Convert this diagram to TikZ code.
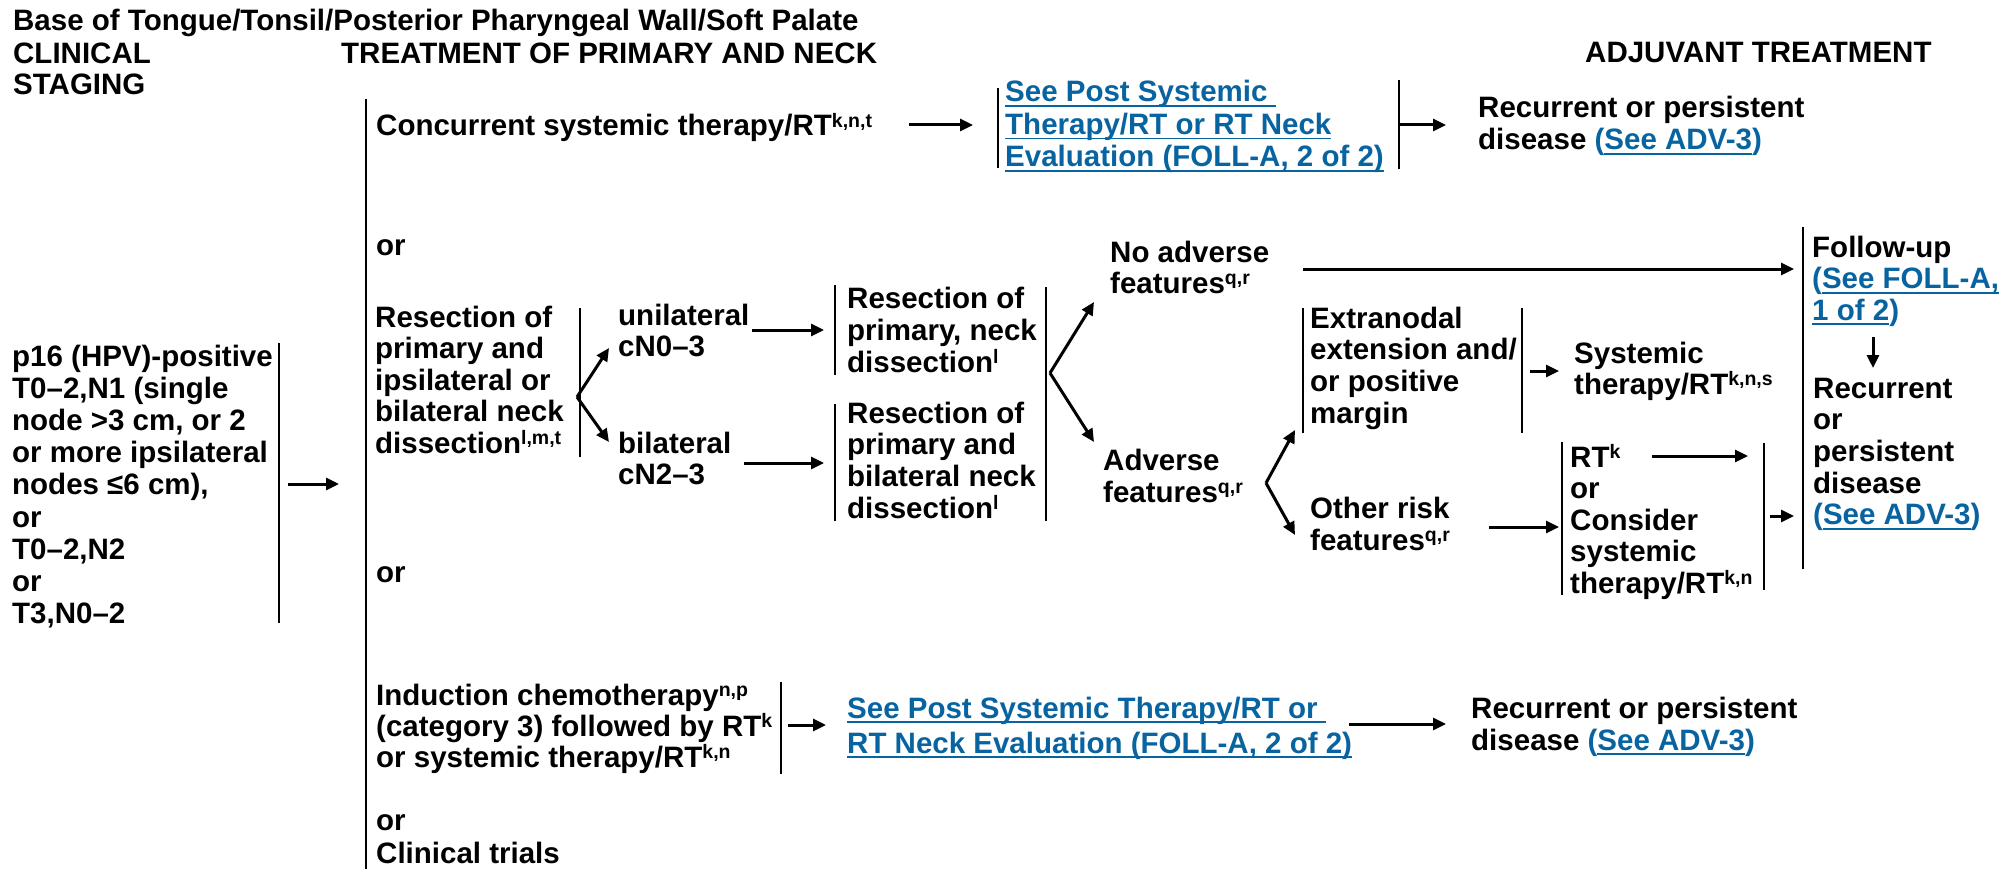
\documentclass[tikz,border=0pt]{standalone}
\usepackage{fontspec}
\setmainfont{Liberation Sans}
\usetikzlibrary{arrows.meta}
\definecolor{linkblue}{RGB}{8,100,160}
% text block: first argument is the line pitch
\newcommand\blk[2]{{\fontsize{29.5}{#1}\selectfont\begin{tabular}[t]{@{}l@{}}#2\end{tabular}}}
% footnote letters
\newcommand\sps[1]{\smash{\raisebox{8.5pt}{\fontsize{19.5}{19.5}\selectfont #1}}}
% underlined text
\newsavebox\ulsave
\newcommand\ulin[1]{\sbox\ulsave{#1}\rlap{\rule[-5pt]{\wd\ulsave}{1.8pt}}\usebox\ulsave}
% links
\newcommand\lnk[1]{\textcolor{linkblue}{\ulin{#1}}}
\newcommand\adv{\textcolor{linkblue}{(\ulin{See ADV-3})}}
\begin{document}
\begin{tikzpicture}[x=1pt,y=-1pt,
  txt/.style={anchor=base west, inner sep=0pt, font=\bfseries},
  bar/.style={line width=2pt},
  arr/.style={line width=3pt, -{Triangle[length=13pt,width=12pt]}}]
\useasboundingbox (0,0) rectangle (1999,869);

% headings
\node[txt] (title) at (13,31) {\blk{32}{Base of Tongue/Tonsil/Posterior Pharyngeal Wall/Soft Palate}};
\node[txt] (colA) at (13,64) {\blk{31}{CLINICAL\\STAGING}};
\node[txt] (colB) at (341,64) {\blk{32}{TREATMENT OF PRIMARY AND NECK}};
\node[txt] (colC) at (1585,63) {\blk{32}{ADJUVANT TREATMENT}};

% clinical staging
\node[txt] (stage) at (12,366) {\blk{32.2}{p16 (HPV)-positive\\T0–2,N1 (single\\node >3 cm, or 2\\or more ipsilateral\\nodes ≤6 cm),\\or\\T0–2,N2\\or\\T3,N0–2}};

% primary treatment options
\node[txt] (conc) at (376,136) {\blk{32}{Concurrent systemic therapy/RT\sps{k,n,t}}};
\node[txt] (evalA) at (1005,102) {\blk{32.5}{\lnk{See Post Systemic }\\\lnk{Therapy/RT or RT Neck}\\\lnk{Evaluation (FOLL-A, 2 of 2)}}};
\node[txt] (recA) at (1478,118) {\blk{32}{Recurrent or persistent\\disease \adv}};
\node[txt] (or1) at (376,255) {\blk{32}{or}};
\node[txt] (resect) at (375,327) {\blk{31.5}{Resection of\\primary and\\ipsilateral or\\bilateral neck\\dissection\sps{l,m,t}}};
\node[txt] (uni) at (618,325) {\blk{31}{unilateral\\cN0–3}};
\node[txt] (bil) at (618,453) {\blk{31}{bilateral\\cN2–3}};
\node[txt] (resU) at (847,308) {\blk{32}{Resection of\\primary, neck\\dissection\sps{l}}};
\node[txt] (resB) at (847,423) {\blk{31.7}{Resection of\\primary and\\bilateral neck\\dissection\sps{l}}};
\node[txt] (noadv) at (1110,262) {\blk{31}{No adverse\\features\sps{q,r}}};
\node[txt] (adv) at (1103,470) {\blk{32}{Adverse\\features\sps{q,r}}};
\node[txt] (extra) at (1310,328) {\blk{31.7}{Extranodal\\extension and/\\or positive\\margin}};
\node[txt] (sysA) at (1574,363) {\blk{31}{Systemic\\therapy/RT\sps{k,n,s}}};
\node[txt] (other) at (1310,518) {\blk{32}{Other risk\\features\sps{q,r}}};
\node[txt] (rtopt) at (1570,467) {\blk{31.5}{RT\sps{k}\\or\\Consider\\systemic\\therapy/RT\sps{k,n}}};
\node[txt] (follow) at (1812,257) {\blk{31.5}{Follow-up\\\textcolor{linkblue}{(\ulin{See FOLL-A,}}\\\textcolor{linkblue}{\ulin{1 of 2})}}};
\node[txt] (recB) at (1813,398) {\blk{31.7}{Recurrent\\or\\persistent\\disease\\\adv}};
\node[txt] (or2) at (376,582) {\blk{32}{or}};
\node[txt] (induct) at (376,705) {\blk{31}{Induction chemotherapy\sps{n,p}\\(category 3) followed by RT\sps{k}\\or systemic therapy/RT\sps{k,n}}};
\node[txt] (evalB) at (847,718) {\blk{35}{\lnk{See Post Systemic Therapy/RT or }\\\lnk{RT Neck Evaluation (FOLL-A, 2 of 2)}}};
\node[txt] (recC) at (1471,718) {\blk{32}{Recurrent or persistent\\disease \adv}};
\node[txt] (or3) at (376,830) {\blk{32}{or}};
\node[txt] (trials) at (376,863) {\blk{32}{Clinical trials}};

% bracket bars
\coordinate (stT) at (279,343);  \coordinate (stB) at (279,623);
\coordinate (mainT) at (366,99); \coordinate (mainB) at (366,869);
\coordinate (evAl) at (998,88);  \coordinate (evAlb) at (998,168);
\coordinate (evAr) at (1399,80); \coordinate (evArb) at (1399,169);
\coordinate (rsT) at (580,308);  \coordinate (rsB) at (580,457);
\coordinate (ruT) at (835,285);  \coordinate (ruB) at (835,375);
\coordinate (rbT) at (835,404);  \coordinate (rbB) at (835,521);
\coordinate (rrT) at (1046,287); \coordinate (rrB) at (1046,521);
\coordinate (exT) at (1303,308); \coordinate (exB) at (1303,433);
\coordinate (exrT) at (1522,308); \coordinate (exrB) at (1522,433);
\coordinate (rtT) at (1562,442); \coordinate (rtB) at (1562,595);
\coordinate (rtrT) at (1764,443); \coordinate (rtrB) at (1764,590);
\coordinate (fuT) at (1803,227); \coordinate (fuB) at (1803,569);
\coordinate (inT) at (781,682);  \coordinate (inB) at (781,774);
\foreach \a/\b in {stT/stB, mainT/mainB, evAl/evAlb, evAr/evArb, rsT/rsB,
  ruT/ruB, rbT/rbB, rrT/rrB, exT/exB, exrT/exrB, rtT/rtB, rtrT/rtrB, fuT/fuB, inT/inB}
  \draw[bar] (\a) -- (\b);

% arrow ends
\coordinate (a1s) at (288,484);  \coordinate (a1e) at (339,484);
\coordinate (a2s) at (909,125);  \coordinate (a2e) at (973,125);
\coordinate (a3s) at (1399,125); \coordinate (a3e) at (1446,125);
\coordinate (brR) at (577,397);  \coordinate (brRu) at (609,348); \coordinate (brRd) at (609,442);
\coordinate (a4s) at (752,330);  \coordinate (a4e) at (824,330);
\coordinate (a5s) at (744,463);  \coordinate (a5e) at (824,463);
\coordinate (brF) at (1050,373); \coordinate (brFu) at (1094,302); \coordinate (brFd) at (1094,442);
\coordinate (a6s) at (1303,269); \coordinate (a6e) at (1794,269);
\coordinate (brA) at (1266,483); \coordinate (brAu) at (1295,430); \coordinate (brAd) at (1295,535);
\coordinate (a7s) at (1530,371); \coordinate (a7e) at (1559,371);
\coordinate (a8s) at (1489,527); \coordinate (a8e) at (1559,527);
\coordinate (a9s) at (1652,456); \coordinate (a9e) at (1748,456);
\coordinate (a10s) at (1770,516); \coordinate (a10e) at (1794,516);
\coordinate (a11s) at (1873,337); \coordinate (a11e) at (1873,368);
\coordinate (a12s) at (788,725);  \coordinate (a12e) at (826,725);
\coordinate (a13s) at (1349,724); \coordinate (a13e) at (1446,724);
\foreach \a/\b in {a1s/a1e, a2s/a2e, a3s/a3e, brR/brRu, brR/brRd, a4s/a4e, a5s/a5e,
  brF/brFu, brF/brFd, a6s/a6e, brA/brAu, brA/brAd, a7s/a7e, a8s/a8e, a9s/a9e,
  a10s/a10e, a11s/a11e, a12s/a12e, a13s/a13e}
  \draw[arr] (\a) -- (\b);
\end{tikzpicture}
\end{document}
